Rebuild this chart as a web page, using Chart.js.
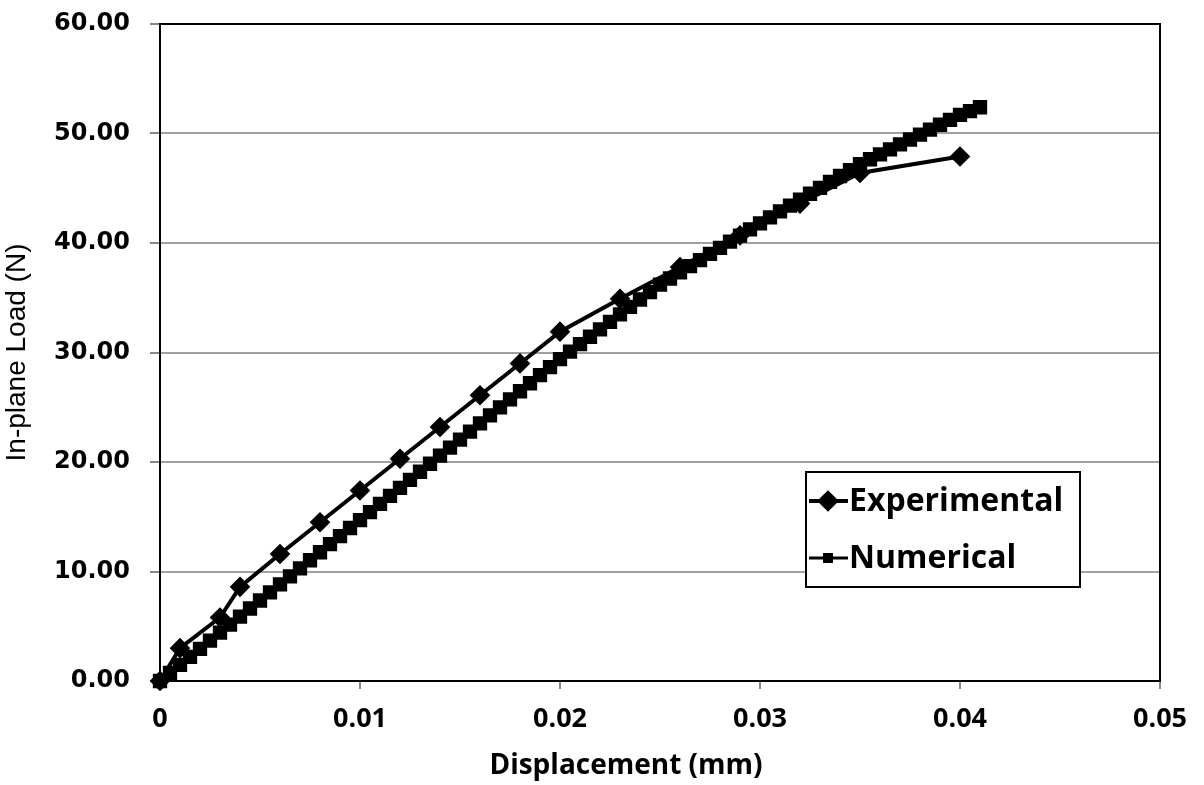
<!DOCTYPE html>
<html>
<head>
<meta charset="utf-8">
<script src="https://cdn.jsdelivr.net/npm/chart.js@4/dist/chart.umd.min.js"></script>
<style>
  html, body { margin: 0; padding: 0; background: #fff; }
  #wrap { width: 1204px; height: 785px; position: relative; }
</style>
</head>
<body>
<div id="wrap"><canvas id="chart" width="1204" height="785"></canvas></div>
<script>
// values
const expX = [0, 0.001, 0.003, 0.004, 0.006, 0.008, 0.010, 0.012, 0.014, 0.016, 0.018, 0.020, 0.023, 0.026, 0.029, 0.032, 0.035, 0.040];
const expY = [0, 3.0, 5.8, 8.6, 11.6, 14.5, 17.4, 20.3, 23.2, 26.1, 29.0, 31.9, 34.9, 37.8, 40.7, 43.6, 46.4, 47.9];

const numX = [
  0, 0.0005, 0.001, 0.0015, 0.002, 0.0025, 0.003, 0.0035, 0.004, 0.0045,
  0.005, 0.0055, 0.006, 0.0065, 0.007, 0.0075, 0.008, 0.0085, 0.009, 0.0095,
  0.010, 0.0105, 0.011, 0.0115, 0.012, 0.0125, 0.013, 0.0135, 0.014, 0.0145,
  0.015, 0.0155, 0.016, 0.0165, 0.017, 0.0175, 0.018, 0.0185, 0.019, 0.0195,
  0.020, 0.0205, 0.021, 0.0215, 0.022, 0.0225, 0.023, 0.0235, 0.024, 0.0245,
  0.025, 0.0255, 0.026, 0.0265, 0.027, 0.0275, 0.028, 0.0285, 0.029, 0.0295,
  0.030, 0.0305, 0.031, 0.0315, 0.032, 0.0325, 0.033, 0.0335, 0.034, 0.0345,
  0.035, 0.0355, 0.036, 0.0365, 0.037, 0.0375, 0.038, 0.0385, 0.039, 0.0395,
  0.040, 0.0405, 0.041
];
const numY = [
  0.00, 0.74, 1.47, 2.21, 2.94, 3.68, 4.41, 5.15, 5.88, 6.62,
  7.35, 8.09, 8.82, 9.56, 10.29, 11.03, 11.76, 12.50, 13.23, 13.97,
  14.70, 15.43, 16.17, 16.90, 17.64, 18.37, 19.11, 19.84, 20.58, 21.31,
  22.05, 22.78, 23.52, 24.25, 24.99, 25.72, 26.46, 27.19, 27.93, 28.66,
  29.40, 30.08, 30.76, 31.44, 32.12, 32.80, 33.48, 34.16, 34.84, 35.52,
  36.20, 36.76, 37.32, 37.88, 38.44, 39.00, 39.56, 40.12, 40.68, 41.24,
  41.80, 42.34, 42.88, 43.42, 43.96, 44.50, 45.04, 45.58, 46.12, 46.66,
  47.20, 47.65, 48.10, 48.55, 49.00, 49.45, 49.90, 50.35, 50.80, 51.25,
  51.70, 52.05, 52.40
];

const seriesNames = ['Experimental', 'Numerical'];
const xTitle = 'Displacement (mm)';
const yTitle = 'In-plane Load (N)';

const toPoints = (xs, ys) => xs.map((x, i) => ({ x: x, y: ys[i] }));

// frame around the plot area, x title, boxed legend inside the plot
const frameAndLegend = {
  id: 'frameAndLegend',
  beforeDatasetsDraw(chart) {
    const { ctx, chartArea: a } = chart;
    ctx.save();
    ctx.strokeStyle = '#000';
    ctx.lineWidth = 2;
    ctx.strokeRect(a.left, a.top, a.right - a.left, a.bottom - a.top);
    ctx.restore();
  },
  afterDraw(chart) {
    const { ctx } = chart;
    ctx.save();

    // x axis title (sits a bit left of the plot centre in the original)
    ctx.fillStyle = '#000';
    ctx.font = 'bold 28px "Open Sans", "Liberation Sans", sans-serif';
    ctx.textAlign = 'center';
    ctx.textBaseline = 'middle';
    ctx.fillText(xTitle, 626, 766);

    // legend box
    const bx = 806, by = 472, bw = 274, bh = 115;
    ctx.fillStyle = '#fff';
    ctx.fillRect(bx, by, bw, bh);
    ctx.strokeStyle = '#000';
    ctx.lineWidth = 2;
    ctx.strokeRect(bx, by, bw, bh);

    const rows = [by + 29, by + 86];
    ctx.font = 'bold 32px "Open Sans", "Liberation Sans", sans-serif';
    ctx.textBaseline = 'middle';
    ctx.textAlign = 'left';
    chart.data.datasets.forEach((ds, i) => {
      const y = rows[i];
      ctx.strokeStyle = '#000';
      ctx.fillStyle = '#000';
      ctx.lineWidth = i === 0 ? 4 : 3;
      ctx.beginPath();
      ctx.moveTo(bx + 3, y);
      ctx.lineTo(bx + 42, y);
      ctx.stroke();
      Chart.helpers.drawPoint(ctx, {
        pointStyle: ds.pointStyle,
        radius: i === 0 ? 8 : 5,
        borderWidth: 1
      }, bx + 22, y);
      ctx.fillText(ds.label, bx + 43, y + 1);
    });
    ctx.restore();
  }
};

new Chart(document.getElementById('chart'), {
  type: 'scatter',
  data: {
    datasets: [
      {
        label: seriesNames[0],
        data: toPoints(expX, expY),
        showLine: true,
        clip: false,
        borderColor: '#000',
        backgroundColor: '#000',
        borderWidth: 4,
        pointStyle: 'rectRot',
        pointRadius: 7.5,
        pointHoverRadius: 7.5,
        order: 1
      },
      {
        label: seriesNames[1],
        data: toPoints(numX, numY),
        showLine: true,
        clip: false,
        borderColor: '#000',
        backgroundColor: '#000',
        borderWidth: 3,
        pointStyle: 'rect',
        pointRadius: 8,
        pointHoverRadius: 8,
        order: 2
      }
    ]
  },
  options: {
    responsive: false,
    animation: false,
    layout: { padding: { top: 24, right: 44, left: 0, bottom: 0 } },
    plugins: {
      legend: { display: false },
      tooltip: { enabled: false }
    },
    scales: {
      x: {
        type: 'linear',
        min: 0,
        max: 0.05,
        ticks: {
          stepSize: 0.01,
          color: '#000',
          padding: 14,
          font: { family: '"Open Sans", "Liberation Sans", sans-serif', size: 27, weight: 'bold' },
          callback: v => (v === 0 ? '0' : v.toFixed(2))
        },
        grid: { display: true, drawOnChartArea: false, tickLength: 8, color: '#888', lineWidth: 2 },
        border: { color: '#000', width: 2 },
        title: { display: false },
        afterFit: s => { s.height = 104; s.paddingLeft = 0; s.paddingRight = 0; }
      },
      y: {
        type: 'linear',
        min: 0,
        max: 60,
        ticks: {
          stepSize: 10,
          color: '#000',
          padding: 20,
          font: { family: '"DejaVu Sans", Verdana, sans-serif', size: 24, weight: 'bold' },
          callback: v => v.toFixed(2)
        },
        grid: { color: '#a0a0a0', lineWidth: 2, tickLength: 10, tickColor: '#888' },
        border: { color: '#000', width: 2 },
        title: {
          display: true,
          text: yTitle,
          color: '#000',
          padding: { top: 0, bottom: 0 },
          font: { family: '"Liberation Sans", Arial, sans-serif', size: 28 }
        },
        afterFit: s => { s.width = 160; s.paddingTop = 0; s.paddingBottom = 0; }
      }
    }
  },
  plugins: [frameAndLegend]
});
</script>
</body>
</html>
